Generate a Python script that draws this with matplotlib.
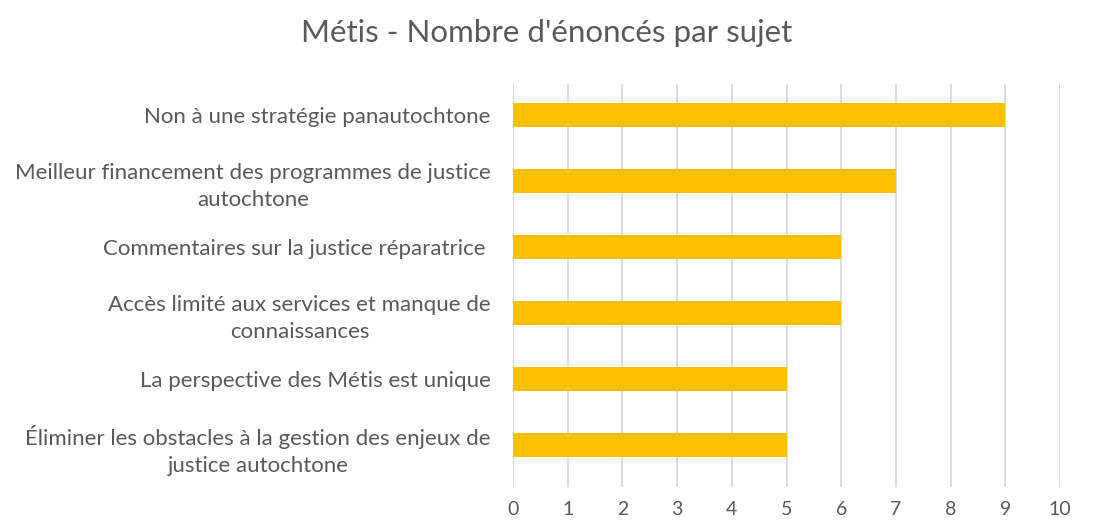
import numpy as np
import matplotlib.pyplot as plt

# Topics and number of statements
topics = [
    "Non à une stratégie panautochtone",
    "Meilleur financement des programmes de justice\nautochtone",
    "Commentaires sur la justice réparatrice ",
    "Accès limité aux services et manque de\nconnaissances",
    "La perspective des Métis est unique",
    "Éliminer les obstacles à la gestion des enjeux de\njustice autochtone",
]
counts = [9, 7, 6, 6, 5, 5]
x_ticks = list(range(0, 11))

grey = '#595959'
plt.rcParams['font.family'] = ['Lato', 'DejaVu Sans']

fig = plt.figure(figsize=(10.95, 5.30), dpi=100)
ax = fig.add_axes([513 / 1095, 1 - 487 / 530, (1060 - 513) / 1095, (487 - 84) / 530])

pos = np.arange(len(topics))
ax.barh(pos, counts, height=0.36, color='#FFC000', zorder=3)

ax.set_xlim(0, 10)
ax.set_ylim(len(topics) - 1 + 0.64, -0.47)
ax.set_xticks(x_ticks)
ax.set_yticks(pos)
ax.set_yticklabels(topics, multialignment='center', linespacing=1.45)
ax.grid(axis='x', color='#d9d9d9', linewidth=1.3, zorder=0)
for s in ax.spines.values():
    s.set_visible(False)
ax.tick_params(axis='y', length=0, pad=16, labelsize=16, labelcolor=grey)
ax.tick_params(axis='x', length=0, pad=10, labelsize=14, labelcolor=grey)

fig.text(547 / 1095, 1 - 33 / 530, "Métis - Nombre d'énoncés par sujet",
         ha='center', va='center', fontsize=22.5, color=grey)

fig.savefig('out.png', dpi=100)
